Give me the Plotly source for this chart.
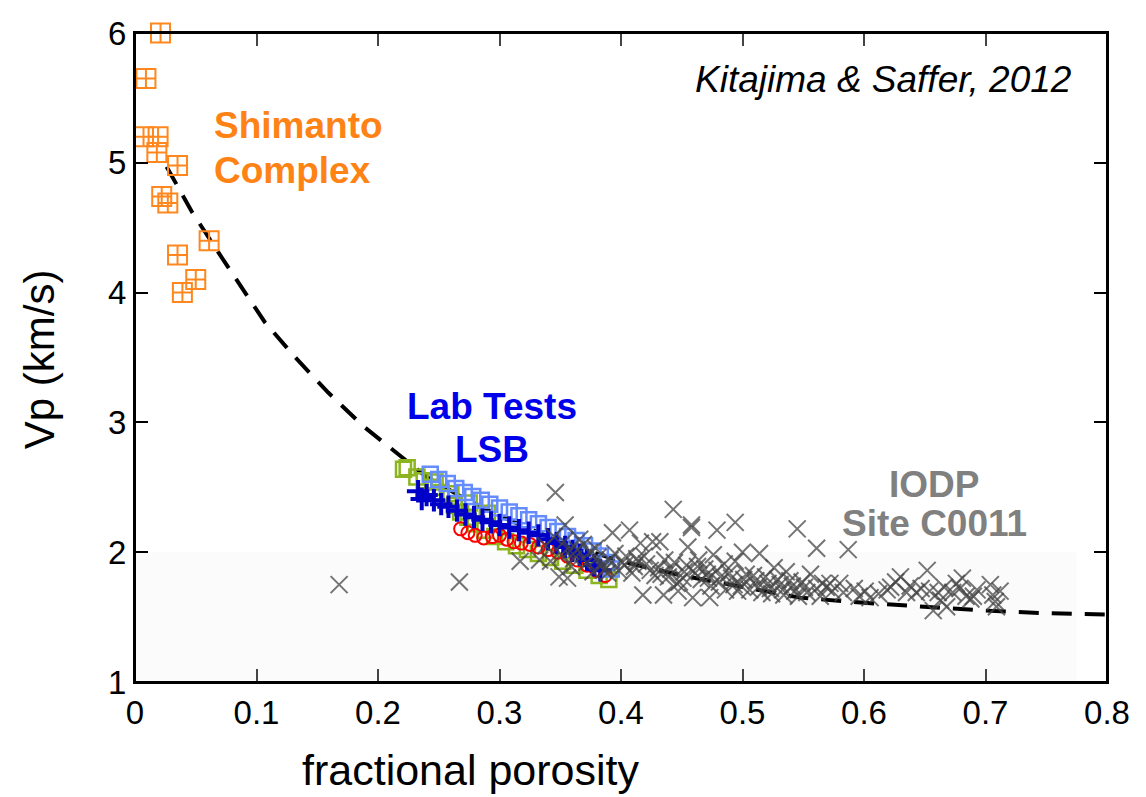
import plotly.graph_objects as go

# ---------------- data ----------------
shimanto_phi = [0.021, 0.009, 0.007, 0.019, 0.018, 0.035, 0.022, 0.027, 0.061, 0.035, 0.050, 0.039]
shimanto_vp = [6.00, 5.65, 5.20, 5.20, 5.08, 4.98, 4.74, 4.69, 4.40, 4.29, 4.10, 4.00]

curve_phi = [0.026, 0.047, 0.070, 0.086, 0.107, 0.132, 0.159, 0.188, 0.218, 0.240, 0.270, 0.300,
             0.350, 0.400, 0.450, 0.500, 0.547, 0.600, 0.650, 0.700, 0.750, 0.800]
curve_vp = [4.97, 4.62, 4.29, 4.06, 3.77, 3.50, 3.23, 2.97, 2.74, 2.58, 2.42, 2.28,
            2.08, 1.93, 1.82, 1.73, 1.65, 1.61, 1.58, 1.55, 1.53, 1.52]

green_phi = [0.221, 0.224, 0.232, 0.238, 0.245, 0.252, 0.258, 0.263, 0.268, 0.274, 0.280, 0.288,
             0.296, 0.305, 0.314, 0.323, 0.332, 0.342, 0.352, 0.362, 0.372, 0.382, 0.390,
             0.247, 0.260, 0.275, 0.290]
green_vp = [2.64, 2.65, 2.58, 2.55, 2.50, 2.46, 2.42, 2.36, 2.31, 2.27, 2.22, 2.17,
            2.12, 2.08, 2.05, 2.02, 1.99, 1.96, 1.93, 1.90, 1.86, 1.82, 1.79,
            2.54, 2.45, 2.38, 2.30]

lightblue_phi = [0.243, 0.250, 0.257, 0.264, 0.271, 0.278, 0.285, 0.292, 0.300, 0.308, 0.316,
                 0.324, 0.332, 0.340, 0.348, 0.356, 0.363, 0.370, 0.377, 0.383, 0.388, 0.392]
lightblue_vp = [2.60, 2.56, 2.53, 2.49, 2.46, 2.43, 2.40, 2.37, 2.34, 2.31, 2.28,
                2.25, 2.22, 2.19, 2.16, 2.12, 2.09, 2.05, 2.01, 1.97, 1.92, 1.87]

darkblue_phi = [0.233, 0.236, 0.240, 0.246, 0.252, 0.258, 0.265, 0.272, 0.279, 0.286, 0.293, 0.300,
                0.308, 0.316, 0.324, 0.332, 0.340, 0.347, 0.354, 0.360, 0.366, 0.372, 0.378, 0.383]
darkblue_vp = [2.47, 2.41, 2.44, 2.40, 2.37, 2.35, 2.32, 2.29, 2.27, 2.25, 2.23, 2.21,
               2.19, 2.17, 2.15, 2.13, 2.10, 2.07, 2.04, 2.01, 1.98, 1.94, 1.90, 1.86]

red_phi = [0.268, 0.274, 0.280, 0.287, 0.294, 0.300, 0.306, 0.312, 0.318, 0.325, 0.332, 0.340,
           0.348, 0.356, 0.364, 0.372, 0.380, 0.387]
red_vp = [2.18, 2.15, 2.13, 2.11, 2.12, 2.13, 2.10, 2.08, 2.07, 2.06, 2.04, 2.02,
          2.00, 1.97, 1.94, 1.90, 1.86, 1.82]

iodp_phi = [0.168, 0.267, 0.317, 0.333, 0.346, 0.354, 0.356,
            0.342, 0.345, 0.338,
            0.351, 0.353, 0.349, 0.358,
            0.361, 0.364, 0.359, 0.366,
            0.372, 0.374, 0.369, 0.377,
            0.381, 0.384, 0.379, 0.386,
            0.391, 0.388, 0.393, 0.395, 0.389,
            0.401, 0.404, 0.398, 0.407, 0.403,
            0.411, 0.413, 0.416, 0.409, 0.414,
            0.421, 0.424, 0.426, 0.419, 0.418, 0.428,
            0.431, 0.433, 0.432, 0.436, 0.435,
            0.441, 0.444, 0.439, 0.443, 0.446, 0.447,
            0.452, 0.451, 0.455, 0.454, 0.458, 0.448,
            0.461, 0.463, 0.458, 0.466, 0.459, 0.464,
            0.471, 0.473, 0.469, 0.479, 0.476, 0.474,
            0.482, 0.481, 0.479, 0.485, 0.472, 0.486,
            0.491, 0.493, 0.489, 0.496, 0.494,
            0.501, 0.503, 0.499, 0.500, 0.494, 0.506,
            0.511, 0.513, 0.509, 0.514, 0.516,
            0.521, 0.523, 0.519, 0.526, 0.524,
            0.531, 0.533, 0.529, 0.536, 0.534,
            0.541, 0.543, 0.539, 0.545, 0.546,
            0.551, 0.553, 0.549, 0.556,
            0.561, 0.564, 0.561, 0.566,
            0.572, 0.574, 0.569,
            0.580, 0.583, 0.587,
            0.592, 0.596,
            0.605, 0.601,
            0.612, 0.619,
            0.622, 0.626,
            0.630, 0.635, 0.638,
            0.643, 0.647,
            0.652, 0.657, 0.654,
            0.663, 0.661, 0.666,
            0.668, 0.673, 0.676,
            0.681, 0.684, 0.679,
            0.690, 0.693, 0.688,
            0.704, 0.706, 0.709,
            0.712, 0.708]
iodp_vp = [1.75, 1.77, 1.93, 1.94, 2.46, 2.21, 1.80,
           1.93, 2.12, 2.05,
           1.98, 2.08, 1.81, 2.01,
           1.95, 2.02, 1.89, 2.10,
           1.92, 2.00, 2.06, 1.85,
           1.96, 1.90, 2.03, 1.86,
           1.94, 1.88, 2.15, 1.99, 1.84,
           1.92, 1.97, 1.86, 2.17, 1.90,
           1.89, 1.95, 2.07, 1.84, 1.93,
           1.91, 1.86, 2.08, 1.97, 1.67, 1.82,
           1.88, 1.83, 2.08, 1.94, 1.67,
           1.87, 1.92, 1.81, 2.33, 1.76, 1.70,
           1.85, 1.80, 2.04, 1.90, 2.21, 1.77,
           1.84, 1.89, 2.19, 1.79, 1.65, 1.94,
           1.83, 1.65, 1.87, 2.17, 1.98, 1.74,
           1.81, 1.77, 1.86, 1.91, 1.80, 1.71,
           1.80, 1.75, 1.84, 1.70, 2.23,
           1.79, 1.83, 1.74, 2.00, 1.93, 1.71,
           1.78, 1.73, 1.82, 1.99, 1.69,
           1.76, 1.72, 1.81, 1.88, 1.68,
           1.75, 1.71, 1.79, 1.85, 1.67,
           1.74, 1.70, 1.78, 2.18, 1.66,
           1.73, 1.69, 1.77, 1.83,
           1.72, 1.66, 2.03, 1.76,
           1.76, 1.70, 1.73,
           1.76, 1.69, 2.02,
           1.72, 1.66,
           1.65, 1.70,
           1.68, 1.71,
           1.73, 1.77,
           1.81, 1.69, 1.74,
           1.69, 1.72,
           1.86, 1.55, 1.70,
           1.63, 1.69, 1.73,
           1.58, 1.69, 1.76,
           1.80, 1.66, 1.72,
           1.66, 1.71, 1.64,
           1.75, 1.67, 1.58,
           1.70, 1.62]

y_ticks = [1, 2, 3, 4, 5, 6]
y_ticklabels = ["1", "2", "3", "4", "5", "6"]

# ---------------- figure ----------------
FONT = "Liberation Sans, Arial, Helvetica, sans-serif"

fig = go.Figure()

fig.add_shape(type="rect", xref="x", yref="y", x0=0, x1=0.775, y0=1, y1=2.0,
              fillcolor="#fbfbfb", line=dict(width=0), layer="below")
# plot frame (top/right borders)
fig.add_shape(type="rect", xref="paper", yref="paper", x0=0, x1=1, y0=0, y1=1,
              line=dict(color="black", width=2), fillcolor="rgba(0,0,0,0)", layer="above")

fig.add_trace(go.Scatter(x=curve_phi, y=curve_vp, mode="lines",
                         line=dict(color="black", width=4, dash="20px,13px"),
                         hoverinfo="skip", showlegend=False))

fig.add_trace(go.Scatter(x=green_phi, y=green_vp, mode="markers", showlegend=False,
                         marker=dict(symbol="square-open", size=15, color="rgb(140,180,30)",
                                     line=dict(width=2.5, color="rgb(140,180,30)"))))
fig.add_trace(go.Scatter(x=red_phi, y=red_vp, mode="markers", showlegend=False,
                         marker=dict(symbol="circle-open", size=13, color="red",
                                     line=dict(width=2, color="red"))))
fig.add_trace(go.Scatter(x=lightblue_phi, y=lightblue_vp, mode="markers", showlegend=False,
                         marker=dict(symbol="square-open", size=15, color="rgb(100,140,255)",
                                     line=dict(width=2.5, color="rgb(100,140,255)"))))
fig.add_trace(go.Scatter(x=darkblue_phi, y=darkblue_vp, mode="markers", showlegend=False,
                         marker=dict(symbol="cross-thin-open", size=16, color="rgb(0,0,200)",
                                     line=dict(width=4, color="rgb(0,0,200)"))))

fig.add_trace(go.Scatter(x=iodp_phi, y=iodp_vp, mode="markers", showlegend=False,
                         marker=dict(symbol="x-thin-open", size=17, color="rgb(70,70,70)",
                                     opacity=0.75,
                                     line=dict(width=2, color="rgb(70,70,70)"))))

fig.add_trace(go.Scatter(x=shimanto_phi, y=shimanto_vp, mode="markers", showlegend=False,
                         cliponaxis=False,
                         marker=dict(symbol="square-cross-open", size=19, color="rgb(255,135,30)",
                                     line=dict(width=2, color="rgb(255,135,30)"))))

def note(text, x, y, color, size=37, xanchor="center", italic=False, bold=True):
    fig.add_annotation(text=text, x=x, y=y, xref="x", yref="y", showarrow=False,
                       xanchor=xanchor, yanchor="middle",
                       font=dict(family=FONT, size=size, color=color,
                                 weight="bold" if bold else "normal",
                                 style="italic" if italic else "normal"))

note("Kitajima & Saffer, 2012", 0.616, 5.64, "black", size=37, italic=True, bold=False)
note("Shimanto", 0.0634, 5.29, "rgb(255,130,20)", xanchor="left")
note("Complex", 0.0634, 4.94, "rgb(255,130,20)", xanchor="left")
note("Lab Tests", 0.294, 3.12, "rgb(0,0,235)")
note("LSB", 0.294, 2.79, "rgb(0,0,235)")
note("IODP", 0.658, 2.52, "rgb(128,128,128)")
note("Site C0011", 0.658, 2.225, "rgb(128,128,128)")

fig.add_annotation(text="Vp (km/s)", xref="paper", yref="paper", x=-0.098, y=0.497,
                   textangle=-90, showarrow=False, xanchor="center", yanchor="middle",
                   font=dict(family=FONT, size=42, color="black"))
fig.add_annotation(text="fractional porosity", xref="paper", yref="paper", x=0.345, y=-0.136,
                   showarrow=False, xanchor="center", yanchor="middle",
                   font=dict(family=FONT, size=43, color="black"))

fig.update_xaxes(range=[0, 0.8], tickmode="linear", tick0=0, dtick=0.1,
                 showgrid=False, zeroline=False, showline=True, linewidth=2, linecolor="black",
                 mirror="ticks", ticks="inside", ticklen=13, tickwidth=2,
                 tickfont=dict(family=FONT, size=33, color="black"))
fig.update_yaxes(range=[1, 6], tickmode="array", tickvals=y_ticks, ticktext=y_ticklabels,
                 ticksuffix="\u00a0\u00a0\u00a0",
                 showgrid=False, zeroline=False, showline=True, linewidth=2, linecolor="black",
                 mirror="ticks", ticks="inside", ticklen=13, tickwidth=2, tickcolor="black",
                 tickfont=dict(family=FONT, size=33, color="black"))

fig.update_layout(width=1146, height=797, plot_bgcolor="white", paper_bgcolor="white",
                  margin=dict(l=135, r=39, t=33, b=115), showlegend=False,
                  template="none")

fig.write_html("out.html")
